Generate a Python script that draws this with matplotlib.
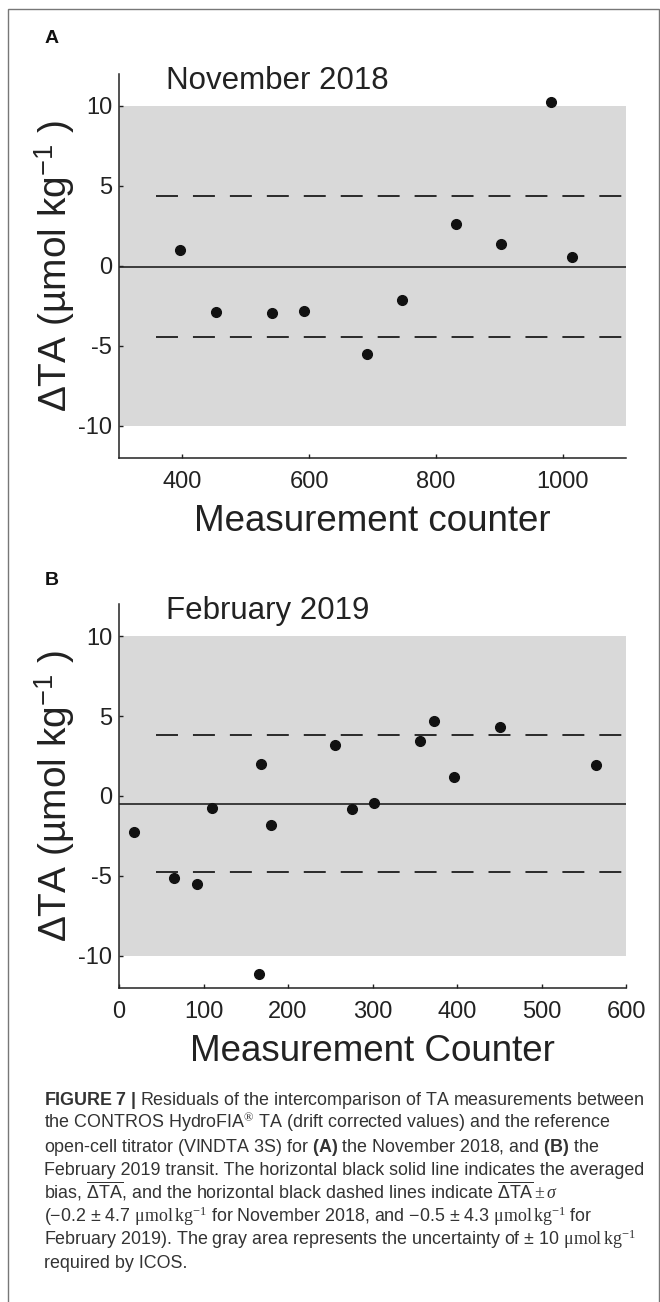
import numpy as np
import matplotlib
matplotlib.use("Agg")
import matplotlib.pyplot as plt
from matplotlib.patches import Rectangle

plt.rcParams['font.family'] = ['Liberation Sans', 'DejaVu Sans']
plt.rcParams['axes.unicode_minus'] = False
plt.rcParams['mathtext.fontset'] = 'custom'
plt.rcParams['mathtext.rm'] = 'Liberation Serif'
plt.rcParams['mathtext.it'] = 'Liberation Serif:italic'
plt.rcParams['mathtext.bf'] = 'Liberation Sans:bold'
plt.rcParams['mathtext.sf'] = 'Liberation Sans'

# November 2018 transit (residuals, umol/kg)
nov_counter = [397, 453, 541, 592, 692, 747, 832, 903, 982, 1015]
nov_dta = [1.0, -2.9, -2.96, -2.8, -5.52, -2.15, 2.6, 1.38, 10.25, 0.56]

# February 2019 transit
feb_counter = [18, 65, 92, 110, 166, 168, 180, 256, 276, 302, 356, 373, 397, 451, 565]
feb_dta = [-2.27, -5.15, -5.52, -0.77, -11.13, 2.02, -1.81, 3.19, -0.79, -0.46,
           3.44, 4.67, 1.17, 4.31, 1.92]

nov_xticks = [400, 600, 800, 1000]
feb_xticks = [0, 100, 200, 300, 400, 500, 600]
dta_yticks = [-10, -5, 0, 5, 10]
icos_limit = 10

caption = [
    r"$\mathbf{FIGURE\ 7\ |}$ Residuals of the intercomparison of TA measurements between",
    r"the CONTROS HydroFIA$^{\circledR}$ TA (drift corrected values) and the reference",
    r"open-cell titrator (VINDTA 3S) for $\mathbf{(A)}$ the November 2018, and $\mathbf{(B)}$ the",
    "February 2019 transit. The horizontal black solid line indicates the averaged",
    r"bias, $\overline{\mathsf{\Delta TA}}$, and the horizontal black dashed lines indicate $\overline{\mathsf{\Delta TA}} \pm \sigma$",
    r"(−0.2 ± 4.7 $\mathrm{μmol\,kg^{-1}}$ for November 2018, and −0.5 ± 4.3 $\mathrm{μmol\,kg^{-1}}$ for",
    r"February 2019). The gray area represents the uncertainty of ± 10 $\mathrm{μmol\,kg^{-1}}$",
    "required by ICOS.",
]

W, H = 660, 1302
fig = plt.figure(figsize=(W / 100, H / 100), dpi=100)


def panel(rect, x, y, xlim, xticks, title, xlabel, letter, letter_y):
    ax = fig.add_axes(rect)
    ax.axhspan(-icos_limit, icos_limit, color='#d9d9d9', lw=0, zorder=0)
    bias = np.mean(y)
    sd = np.std(y, ddof=1)
    ax.axhline(bias, color='#222222', lw=1.2, zorder=1)
    for v in (bias - sd, bias + sd):
        ax.axhline(v, xmin=0.073, color='#2a2a2a', lw=1.4, ls=(0, (11.3, 7.7)), zorder=1)
    ax.plot(x, y, 'o', color='#111111', ms=7, zorder=3)
    ax.set_xlim(xlim)
    ax.set_ylim(-12, 12)
    ax.set_xticks(xticks)
    ax.set_yticks(dta_yticks)
    for s in ('top', 'right'):
        ax.spines[s].set_visible(False)
    for s in ('left', 'bottom'):
        ax.spines[s].set_linewidth(1.1)
        ax.spines[s].set_color('#222222')
    ax.tick_params(direction='in', length=3, width=1, colors='#222222', labelsize=17)
    ax.tick_params(axis='x', pad=9)
    ax.tick_params(axis='y', pad=5)
    ax.set_xlabel(xlabel, fontsize=26.5, color='#222222')
    ax.xaxis.set_label_coords(0.5, -0.12)
    ax.set_ylabel(r"ΔTA (µmol kg$^{\mathsf{-1}}$ )", fontsize=28, color='#222222')
    ax.yaxis.set_label_coords(-0.082, 0.5)
    ax.text(0.093, 0.962, title, transform=ax.transAxes, fontsize=22.5,
            va='baseline', ha='left', color='#222222')
    fig.text(45 / W, 1 - letter_y / H, letter, fontsize=14, fontweight='bold',
             va='baseline', ha='left', color='#111111')
    return ax


panel([119 / W, 1 - 458 / H, 507 / W, 384 / H], nov_counter, nov_dta, (300, 1100),
      nov_xticks, "November 2018", "Measurement counter", "A", 43)
panel([119 / W, 1 - 988 / H, 507 / W, 384 / H], feb_counter, feb_dta, (0, 600),
      feb_xticks, "February 2019", "Measurement Counter", "B", 585)

for i, line in enumerate(caption):
    fig.text(44 / W, 1 - (1105 + i * 23.3) / H, line, fontsize=12.9, va='baseline',
             ha='left', color='#333333')

fig.add_artist(Rectangle((8 / W, -0.01), 651 / W, 1.01 - 9 / H, transform=fig.transFigure,
                         fill=False, ec='#777777', lw=1))

fig.savefig('out.png', dpi=100)
